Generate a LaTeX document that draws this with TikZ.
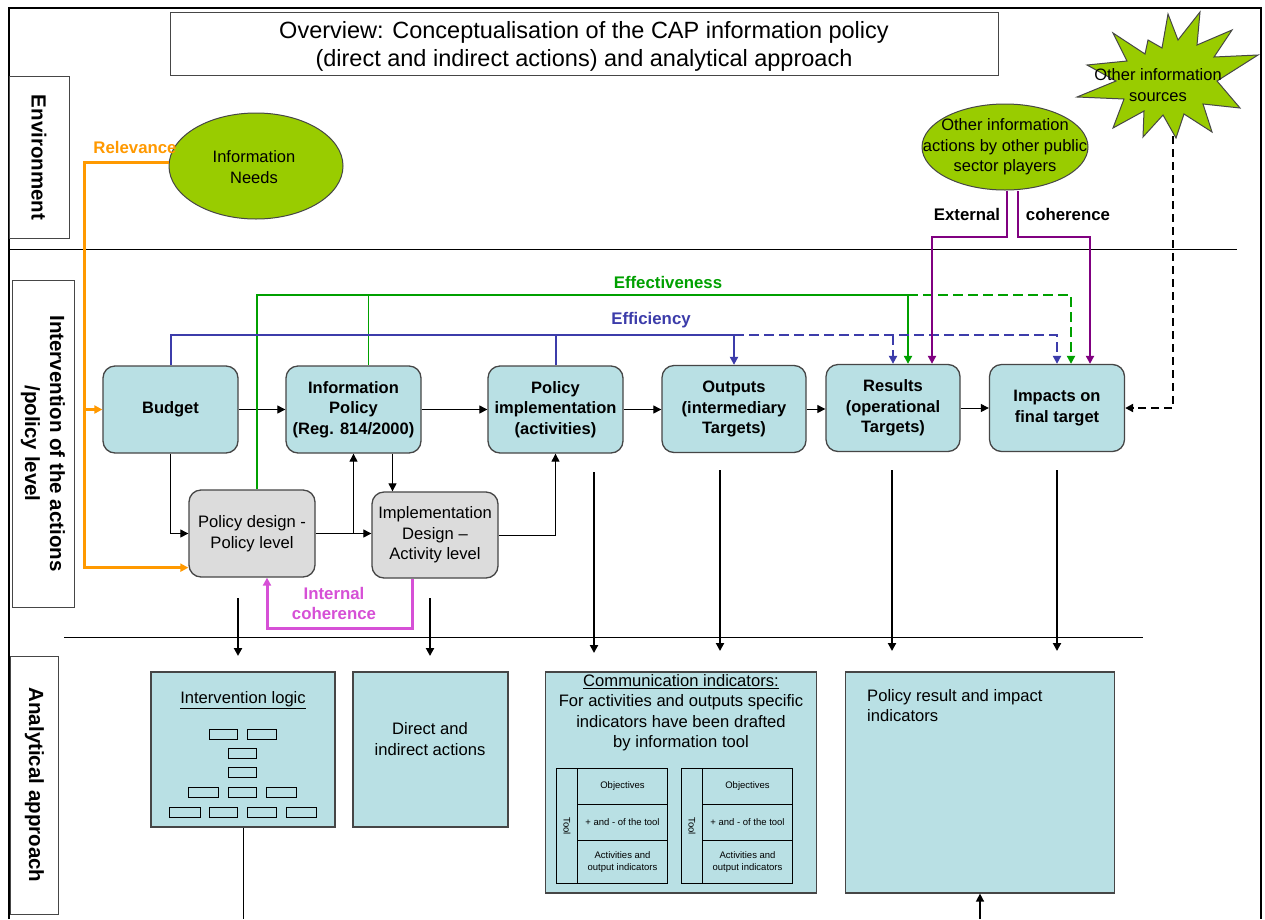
\documentclass[tikz,border=0pt]{standalone}
\usepackage{fontspec}
\setmainfont{Liberation Sans}
\usetikzlibrary{arrows.meta,calc,shapes.geometric}

\definecolor{tealfill}{RGB}{185,224,228}
\definecolor{grayfill}{RGB}{220,220,220}
\definecolor{leafgreen}{RGB}{153,204,0}
\definecolor{effgreen}{RGB}{0,160,0}
\definecolor{effblue}{RGB}{60,60,170}
\definecolor{extpurple}{RGB}{128,0,128}
\definecolor{intmagenta}{RGB}{214,80,214}
\definecolor{relorange}{RGB}{255,153,0}
\definecolor{edgegray}{RGB}{70,70,70}

\newcommand{\fsz}[2]{\fontsize{#1}{#2}\selectfont}

\tikzset{
  tip/.style={-{Triangle[length=8pt,width=8pt]}},
  smalltip/.style={-{Triangle[length=8pt,width=8pt]}},
  flowbox/.style={draw=edgegray, line width=1.3pt, rounded corners=12pt,
    align=center, inner sep=0pt, minimum height=87pt},
  mainbox/.style={flowbox, fill=tealfill, font=\bfseries\fsz{16.5}{20.5}},
  designbox/.style={flowbox, fill=grayfill, font=\fsz{16.6}{20.5}},
  panel/.style={draw=edgegray, line width=1.2pt, fill=tealfill, inner sep=0pt},
  sidelabel/.style={draw=edgegray, line width=1pt, rotate=-90, align=center,
    inner sep=0pt, font=\bfseries\fsz{20.5}{25}},
  blob/.style={draw=edgegray, line width=1pt, fill=leafgreen, ellipse, inner sep=0pt},
  blobtext/.style={align=center, inner sep=0pt, font=\fsz{16.5}{20.5}},
  bodytext/.style={inner sep=0pt, font=\fsz{16.6}{20.5}},
  conn/.style={black, line width=1pt, smalltip},
  downarrow/.style={black, line width=2pt, tip},
  orline/.style={relorange, line width=3pt, tip},
  gline/.style={effgreen, line width=2.5pt},
  bline/.style={effblue, line width=2pt},
  pline/.style={extpurple, line width=2pt, tip},
  mline/.style={intmagenta, line width=3pt, tip},
  dashpat/.style={dash pattern=on 10pt off 5pt},
  cell/.style={draw=black, line width=1pt, inner sep=0pt, align=center,
    font=\fsz{9.5}{11.5}},
  minibox/.style={draw=black, line width=1pt},
  steplabel/.style={font=\bfseries\fsz{16.8}{20}, align=center},
}

\begin{document}
\begin{tikzpicture}[x=1pt,y=-1pt]
\useasboundingbox (0,0) rectangle (1265,919);
\fill[white] (0,0) rectangle (1265,919);

% outer frame and band separators
\draw[line width=2pt] (9,919) -- (9,8) -- (1261,8) -- (1261,919);
\draw[line width=1pt] (9,249) -- (1237,249);
\draw[line width=1pt] (64,637) -- (1143,637);

% title
\node[draw=edgegray, line width=1pt, minimum width=828pt, minimum height=63pt,
  inner sep=0pt] (title) at (584,43.5) {};
\node[inner sep=0pt, align=center, font=\fsz{23.5}{28}] (titletext) at (584,46.5)
  {Overview: Conceptualisation of the CAP information policy\\
   (direct and indirect actions) and analytical approach};

% band labels
\node[sidelabel, minimum width=162pt, minimum height=60pt] (envlab) at (39,157.5) {Environment};
\node[sidelabel, minimum width=327pt, minimum height=62pt] (intlab) at (43,443.5)
  {Intervention of the actions\\/policy level};
\node[sidelabel, minimum width=258pt, minimum height=48pt] (anlab) at (34.5,785) {Analytical approach};

% environment
\node[blob, minimum width=174pt, minimum height=106pt] (needs) at (256,166) {};
\node[blobtext] (needstext) at (254,167) {Information\\Needs};
\node[blob, minimum width=166pt, minimum height=86pt] (others) at (1005,147) {};
\node[blobtext] (otherstext) at (1005,147) {Other information\\actions by other public\\sector players};

% starburst of other sources
\draw[draw=edgegray, line width=1pt, fill=leafgreen]
  (1200,12) -- (1178,40) -- (1168,14) -- (1162,48) -- (1148,40) -- (1145,54)
  -- (1113,33) -- (1127,61) -- (1087,65) -- (1116,81) -- (1077,97) -- (1124,99)
  -- (1113,128) -- (1144,111) -- (1143,137) -- (1163,115) -- (1176,138)
  -- (1184,114) -- (1212,132) -- (1203,104) -- (1240,108) -- (1217,81)
  -- (1258,55) -- (1214,57) -- (1232,30) -- (1197,45) -- cycle;
\node[blobtext] (star) at (1158,85) {Other information\\sources};
\coordinate (startip) at (1173,136);

% intervention chain
\node[mainbox, minimum width=135pt] (budget) at (170.5,409.5) {Budget};
\node[mainbox, minimum width=135pt] (ipol) at (353.5,409.5) {Information\\Policy\\(Reg. 814/2000)};
\node[mainbox, minimum width=135pt] (pimpl) at (555.5,409.5) {Policy\\implementation\\(activities)};
\node[mainbox, minimum width=144pt] (outputs) at (734,409) {Outputs\\(intermediary\\Targets)};
\node[mainbox, minimum width=134pt] (results) at (893,408) {Results\\(operational\\Targets)};
\node[mainbox, minimum width=135pt] (impacts) at (1057,408) {Impacts on\\final target};
\node[designbox, minimum width=126pt] (pdes) at (252,533.5) {Policy design -\\Policy level};
\node[designbox, minimum width=126pt, minimum height=86pt] (ides) at (435,535)
  {Implementation\\Design –\\Activity level};

% chain connectors
\draw[conn] (budget.east) -- (budget.east -| ipol.west);
\draw[conn] (ipol.east) -- (ipol.east -| pimpl.west);
\draw[conn] (pimpl.east) -- (pimpl.east -| outputs.west);
\draw[conn] (outputs.east) -- (outputs.east -| results.west);
\draw[conn] (results.east) -- (results.east -| impacts.west);
\draw[conn] (budget.south) |- (pdes.west);
\draw[conn] (pdes.east) -- (pdes.east -| ides.west);
\draw[conn] (ipol.south |- pdes.east) -- (ipol.south);
\coordinate (ipdown) at ([xshift=39pt]ipol.south);
\draw[conn] (ipdown) -- (ipdown |- ides.north);
\draw[conn] (ides.east) -| (pimpl.south);

% level lines of the evaluation criteria
\coordinate (effy) at (0,295);
\coordinate (effiy) at (0,335);
\coordinate (purpy) at (0,237);
\coordinate (orx) at (84,0);
\coordinate (magy) at (0,628);

% relevance
\coordinate (pdorange) at ([yshift=10pt]pdes.south west);
\draw[orline] ([yshift=4pt]needs.west) -| (orx |- pdorange) -- (pdorange);
\draw[orline] (orx |- budget.west) -- (budget.west);
\node[steplabel, text=relorange, anchor=south] (rellab) at (135,157) {Relevance};

% effectiveness
\coordinate (pdG) at ([xshift=5pt]pdes.north);
\coordinate (ipG) at ([xshift=15pt]ipol.north);
\coordinate (resG) at ([xshift=15pt]results.north);
\coordinate (impG) at ([xshift=14pt]impacts.north);
\draw[gline, tip] (pdG) |- (resG |- effy) -- (resG);
\draw[gline, dashpat, tip] (resG |- effy) -| (impG);
\draw[effgreen, line width=1.5pt] (ipG) -- (ipG |- effy);
\node[steplabel, text=effgreen] (efflab) at (668,282) {Effectiveness};

% efficiency
\draw[bline, tip] (budget.north) |- (outputs.north |- effiy) -- (outputs.north);
\draw[bline] (pimpl.north) -- (pimpl.north |- effiy);
\draw[bline, dashpat, tip] (outputs.north |- effiy) -| (impacts.north);
\draw[bline, dashpat, tip] (results.north |- effiy) -- (results.north);
\node[steplabel, text=effblue] (efflab2) at (651,320) {Efficiency};

% external coherence
\coordinate (othL) at ([xshift=2pt]others.south);
\coordinate (othR) at ([xshift=13pt]others.south);
\coordinate (resP) at ([xshift=39pt]results.north);
\coordinate (impP) at ([xshift=33pt]impacts.north);
\draw[pline] (othL) |- (resP |- purpy) -- (resP);
\draw[pline] (othR) |- (impP |- purpy) -- (impP);
\node[steplabel] (extlab) at (967,214) {External};
\node[steplabel] (cohlab) at (1068,214) {coherence};

% other sources
\draw[black, line width=2pt, dash pattern=on 8pt off 5pt, tip] (startip) |- (impacts.east);

% internal coherence
\coordinate (idM) at ([xshift=-23pt]ides.south);
\coordinate (pdM) at ([xshift=15pt]pdes.south);
\draw[mline] (idM) |- (pdM |- magy) -- (pdM);
\node[steplabel, text=intmagenta] (intcoh) at (334,603) {Internal\\coherence};

% analytical approach panels
\node[panel, minimum width=184pt, minimum height=155pt] (ilogic) at (243,749.5) {};
\node[bodytext, anchor=base] (iltitle) at (243,703) {\underline{Intervention logic}};
\foreach \a/\b/\c/\d in {209/729/237/739, 247/729/276/739, 228/748/256/758,
  228/767/256/777, 188/787/218/797, 228/787/256/797, 266/787/296/797,
  169/807/200/817, 209/807/237/817, 247/807/276/817, 286/807/316/817}
  \draw[minibox] (\a,\b) rectangle (\c,\d);

\node[panel, minimum width=155pt, minimum height=155pt] (direct) at (430.5,749.5) {};
\node[bodytext, align=center] (dirtext) at (430,739) {Direct and\\indirect actions};

\node[panel, minimum width=271pt, minimum height=221pt] (comm) at (681,782.5) {};
\node[bodytext, align=center, anchor=north] (commtext) at (681,674)
  {\underline{Communication indicators:}\\For activities and outputs specific\\indicators have been drafted\\by information tool};
\foreach \t/\x in {a/556, b/681} {
  \node[cell, minimum width=21pt, minimum height=115pt, anchor=north west] (tool\t) at (\x,768) {};
  \node[cell, rotate=-90, draw=none] at (tool\t.center) {Tool};
  \node[cell, minimum width=90pt, minimum height=36pt, anchor=north west] (obj\t) at (\x+21,768) {Objectives};
  \node[cell, minimum width=90pt, minimum height=36pt, anchor=north west] (pm\t) at (\x+21,804) {+ and - of the tool};
  \node[cell, minimum width=90pt, minimum height=43pt, anchor=north west] (act\t) at (\x+21,840) {Activities and\\output indicators};
}

\node[panel, minimum width=269pt, minimum height=221pt] (polres) at (980,782.5) {};
\node[bodytext, align=left, anchor=north west] (prtext) at (867,689)
  {Policy result and impact\\indicators};

% arrows from the intervention level to the analysis
\coordinate (a1) at (238,598);  \coordinate (b1) at (238,656);
\coordinate (a2) at (430,598);  \coordinate (b2) at (430,656);
\coordinate (a3) at (594,472);  \coordinate (b3) at (594,653);
\coordinate (a4) at (720,470);  \coordinate (b4) at (720,651);
\coordinate (a5) at (892,470);  \coordinate (b5) at (892,651);
\coordinate (a6) at (1057,470); \coordinate (b6) at (1057,651);
\foreach \i in {1,...,6} \draw[downarrow] (a\i) -- (b\i);

% links leaving the lower edge
\coordinate (ilbottom) at (ilogic.south |- 0,919);
\draw[line width=1pt] (ilogic.south) -- (ilbottom);
\coordinate (prbottom) at (polres.south |- 0,919);
\draw[black, line width=1.5pt, tip] (prbottom) -- (polres.south);
\end{tikzpicture}
\end{document}
